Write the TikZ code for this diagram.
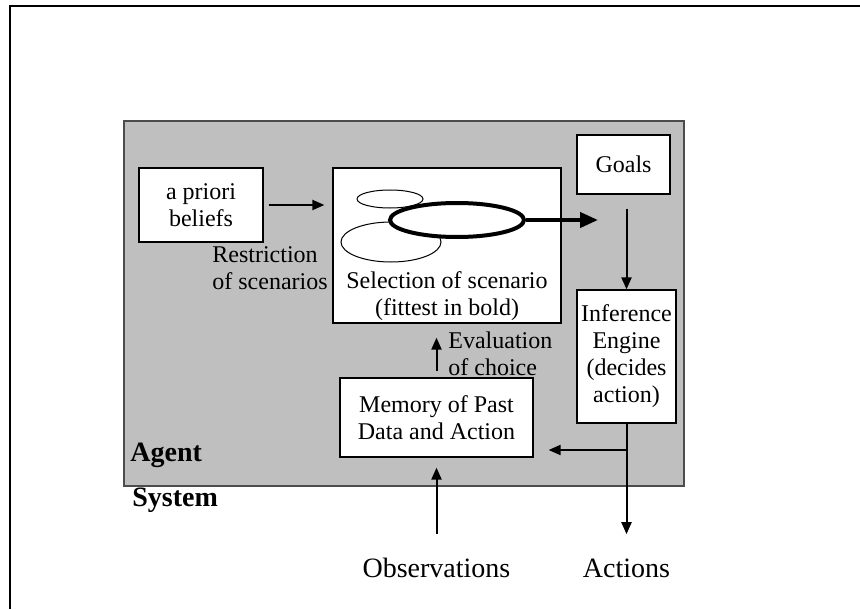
\documentclass[tikz,border=0pt]{standalone}
\usepackage{fontspec}
\setmainfont{Liberation Serif}
\usetikzlibrary{arrows.meta,shapes.geometric}

\begin{document}
\begin{tikzpicture}[
    x=0.5pt, y=-0.5pt,
    >={Triangle[length=6pt,width=5pt]},
    block/.style={draw, fill=white, line width=0.6pt, inner sep=0pt, align=center, font=\fontsize{12}{13.5}\selectfont},
    txt/.style={inner sep=0pt, align=left, font=\fontsize{12}{13.5}\selectfont},
    tag/.style={inner sep=0pt, anchor=west, font=\fontsize{14}{16}\selectfont\bfseries},
    io/.style={inner sep=0pt, font=\fontsize{14}{16}\selectfont},
    scen/.style={draw, ellipse, fill=white, inner sep=0pt, line width=0.5pt},
    flow/.style={->, line width=1pt}
]
    \useasboundingbox (0,0) rectangle (860,609);

    % frame of the system
    \draw[line width=1pt] (10,609) -- (10,6) -- (860,6);

    % agent area
    \node[draw=black!70, fill=black!25, line width=0.7pt, minimum width=280pt, minimum height=182.5pt] (agent) at (404,303.5) {};
    \node[tag] (agenttag) at (130,455) {Agent};
    \node[tag] (systag) at (132,500) {System};

    \node[block, minimum width=62pt, minimum height=37pt] (beliefs) at (201,205) {a priori\\beliefs};
    \node[block, minimum width=114pt, minimum height=77.5pt] (select) at (447,245.5) {};
    \node[txt, align=center] (selecttxt) at (447,296) {Selection of scenario\\(fittest in bold)};
    \node[block, minimum width=46.5pt, minimum height=29.5pt] (goals) at (623.5,164.5) {Goals};
    \node[block, minimum width=49.5pt, minimum height=66.5pt] (infer) at (626.5,356.5) {Inference\\Engine\\(decides\\action)};
    \node[block, minimum width=96.5pt, minimum height=39.5pt] (memory) at (436.5,417.5) {Memory of Past\\Data and Action};

    % scenarios
    \node[scen, minimum width=33pt, minimum height=9pt] (scenA) at (390,199) {};
    \node[scen, minimum width=50pt, minimum height=20pt] (scenC) at (391,242) {};
    \node[scen, line width=2pt, minimum width=67pt, minimum height=17pt] (scenB) at (457,220) {};

    \node[txt, anchor=west] (restrict) at (212,268.5) {Restriction\\of scenarios};
    \node[txt, anchor=west] (evaltxt) at (448,354) {Evaluation\\of choice};

    \node[io] (obs) at (436.5,568) {Observations};
    \node[io] (act) at (626.5,568) {Actions};

    \coordinate (aim) at (598,220);
    \coordinate (split) at (626.5,450);

    \draw[flow, shorten <=2.5pt, shorten >=4pt] (beliefs.east) -- (beliefs.east -| select.west);
    \draw[->, line width=2pt, >={Triangle[length=9pt,width=7.5pt]}] (scenB.east) -- (aim);
    \draw[flow, shorten <=7pt] (goals.south -| infer) -- (infer.north);
    \draw[flow, shorten <=3pt, shorten >=7pt] (memory.north) -- (memory.north |- select.south);
    \draw[flow, shorten <=12pt, shorten >=5pt] (obs.north) -- (memory.south);
    \draw[flow, shorten >=12pt] (infer.south) -- (act.north);
    \draw[flow, shorten >=7.5pt] (split) -- (split -| memory.east);
\end{tikzpicture}
\end{document}
